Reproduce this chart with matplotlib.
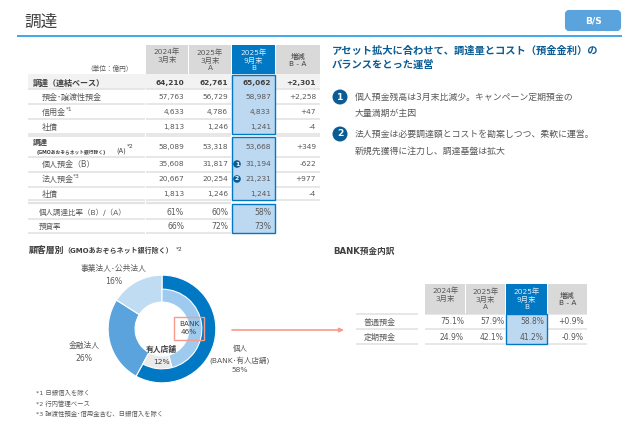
import matplotlib
matplotlib.use("Agg")
import matplotlib.pyplot as plt
from matplotlib.patches import Rectangle, FancyBboxPatch, Circle

plt.rcParams['font.family'] = ['DejaVu Sans', 'Noto Sans CJK JP']

# ---- data ----
header_labels = ["2024年\n3月末", "2025年\n3月末\nA", "2025年\n9月末\nB", "増減\nB - A"]
main_labels = ["調達（連結ベース）", "預金･譲渡性預金", "信用金", "社債",
               "", "個人預金（B）", "法人預金", "社債",
               "個人調達比率（B）/（A）", "預貸率"]
fy24 = ["64,210", "57,763", "4,633", "1,813", "58,089", "35,608", "20,667", "1,813", "61%", "66%"]
fy25 = ["62,761", "56,729", "4,786", "1,246", "53,318", "31,817", "20,254", "1,246", "60%", "72%"]
sep25 = ["65,062", "58,987", "4,833", "1,241", "53,668", "31,194", "21,231", "1,241", "58%", "73%"]
diff = ["+2,301", "+2,258", "+47", "-4", "+349", "-622", "+977", "-4", "", ""]

outer_values = [58, 26, 16]
outer_labels = ["個人\n(BANK･有人店舗)\n58%", "金融法人\n26%", "事業法人･公共法人\n16%"]
inner_values = [46, 12, 42]
inner_labels = ["BANK\n46%", "有人店舗\n12%"]

bank_labels = ["普通預金", "定期預金"]
bank_24 = ["75.1%", "24.9%"]
bank_25 = ["57.9%", "42.1%"]
bank_sep = ["58.8%", "41.2%"]
bank_diff = ["+0.9%", "-0.9%"]

heading = "アセット拡大に合わせて、調達量とコスト（預金金利）の\nバランスをとった運営"
points = [["個人預金残高は3月末比減少。キャンペーン定期預金の", "大量満期が主因"],
          ["法人預金は必要調達額とコストを勘案しつつ、柔軟に運営。", "新規先獲得に注力し、調達基盤は拡大"]]
notes = ["*1 日銀借入を除く", "*2 行内管理ベース", "*3 譲渡性預金･借用金含む、日銀借入を除く"]

# ---- colours ----
BLUE = "#0078C4"; LIGHT = "#BDD9F1"; MID = "#5BA3DC"; PALE = "#9DCAEE"; PALER = "#BFDCF3"
GREY = "#D9D9D9"; SEP = "#E3E3E3"; TXT = "#595959"; DARK = "#404040"; NAVY = "#0B5C94"; SALMON = "#F79A8C"

fig = plt.figure(figsize=(6.4, 4.43), dpi=100, facecolor="white")
ax = fig.add_axes([0, 0, 1, 1], zorder=3)
ax.set_xlim(0, 640); ax.set_ylim(443, 0); ax.axis("off"); ax.patch.set_alpha(0)

def rect(x0, y0, x1, y1, fc="none", ec="none", lw=0, z=1):
    ax.add_patch(Rectangle((x0, y0), x1 - x0, y1 - y0, facecolor=fc, edgecolor=ec, linewidth=lw, zorder=z))

def hline(x0, x1, y, c=SEP, lw=1.0, z=1.5):
    ax.plot([x0, x1], [y, y], color=c, lw=lw, zorder=z, solid_capstyle="butt")

def t(x, y, s, size=5.6, c=TXT, ha="left", va="center", w="normal", z=5, ls=1.2):
    ax.text(x, y, s, fontsize=size, color=c, ha=ha, va=va, fontweight=w, zorder=z, linespacing=ls)

# page header
t(24, 22, "調達", size=12, c=DARK)
hline(17, 622, 36, c="#1E9BE6", lw=1.2)
ax.add_patch(FancyBboxPatch((566, 11), 54, 19, boxstyle="round,pad=0,rounding_size=3",
                            facecolor=MID, edgecolor=MID, lw=1.5, zorder=2))
t(593, 21, "B/S", size=6.6, c="white", ha="center", w="bold")

# main table
hx = [(146, 188), (189, 231), (232, 275), (276, 320)]
for i, (x0, x1) in enumerate(hx):
    rect(x0, 45, x1, 74, fc=BLUE if i == 2 else GREY, z=2)
t(167, 55, header_labels[0], size=5.3, ha="center")
t(210, 60, header_labels[1], size=5.3, ha="center")
t(253.5, 60, header_labels[2], size=5.3, c="#DDEEFA", ha="center")
t(298, 60, header_labels[3], size=5.3, ha="center", c=DARK)
t(133, 68, "（単位：億円）", size=4.8, ha="right")

row_y = [83, 97, 112, 127, 147, 164, 179, 194, 212, 226]
row_x = [33, 42, 42, 42, 33, 42, 42, 42, 39, 39]
rect(28, 74, 320, 89, fc="#F2F2F2", z=1)
rect(232, 75, 275, 133.5, fc=LIGHT, ec=BLUE, lw=1, z=1.8)
rect(232, 136.5, 275, 200, fc=LIGHT, ec=BLUE, lw=1, z=1.8)
rect(232, 203.5, 275, 232.5, fc=LIGHT, ec=BLUE, lw=1, z=1.8)
for y in [89, 104, 119, 134, 136, 157, 172, 186.5, 200, 218.5, 233]:
    for x0, x1 in [(28, 145), (146, 231), (276, 320)]:
        if y >= 203 and x0 == 276:
            continue
        hline(x0, x1, y, lw=1.2)
for x0, x1 in [(28, 145), (146, 231)]:
    hline(x0, x1, 203, lw=1.6)

for i, y in enumerate(row_y):
    bold = i == 0
    w = "bold" if bold else "normal"
    c = DARK if bold else TXT
    sz = 5.3 if i < 8 else 5.6
    if main_labels[i]:
        t(row_x[i], y, main_labels[i], size=5.8 if i not in (8, 9) else 5.4, c=c, w=w)
    t(184, y, fy24[i], size=sz, c=c, ha="right", w=w)
    t(228, y, fy25[i], size=sz, c=c, ha="right", w=w)
    t(271, y, sep25[i], size=sz, c=c, ha="right", w=w)
    if diff[i]:
        t(316, y, diff[i], size=sz, c=c, ha="right", w=w)
t(66, 109.5, "*1", size=4.2)
t(73, 176.5, "*3", size=4.2)
t(33, 142, "調達", size=5.4, c=DARK, w="bold")
t(37, 152, "(GMOあおぞらネット銀行除く)", size=3.4, c=DARK, w="bold")
t(116, 151, "(A)", size=4.8, c=DARK)
t(127, 146, "*2", size=4.2, c=DARK)

for cy, n in [(164, "1"), (179, "2")]:
    ax.add_patch(Circle((237, cy), 3.8, fc=NAVY, ec="none", zorder=4))
    t(237, cy, n, size=4.4, c="white", ha="center", w="bold")

# right text
t(332, 58, heading, size=7.4, c=NAVY, w="bold", ls=1.5)
for cy, n in [(97, "1"), (134, "2")]:
    ax.add_patch(Circle((340, cy), 7.5, fc=NAVY, ec="none", zorder=4))
    t(340, cy, n, size=6.6, c="white", ha="center", w="bold")
t(355, 97, points[0][0], size=6.4)
t(355, 113, points[0][1], size=6.4)
t(355, 134, points[1][0], size=6.4)
t(355, 151, points[1][1], size=6.4)

# donut section
t(29, 250, "顧客層別", size=6.4, c=DARK, w="bold")
t(63, 250, "（GMOあおぞらネット銀行除く）", size=5.0, c=DARK, w="bold")
t(176, 249, "*2", size=4.2, c=DARK)

cx, cy_, R = 162, 329, 54
pad = 2
pax = fig.add_axes([(cx - R - pad) / 640, 1 - (cy_ + R + pad) / 443, (2 * R + 2 * pad) / 640, (2 * R + 2 * pad) / 443], zorder=2)
pax.pie(outer_values, colors=[BLUE, MID, PALER], startangle=90, counterclock=False, radius=1,
        wedgeprops=dict(width=0.5, edgecolor="white", linewidth=0.8))
wedges, _ = pax.pie(inner_values, colors=[PALE, "#EAEAEA", "none"], startangle=90, counterclock=False, radius=0.74,
                    wedgeprops=dict(width=0.24, edgecolor="white", linewidth=0.8))
wedges[2].set_visible(False)
pax.set_xlim(-1.04, 1.04); pax.set_ylim(-1.04, 1.04); pax.set_aspect("equal")

t(114, 275, outer_labels[2], size=5.6, ha="center", ls=1.55)
t(84, 352, outer_labels[1], size=5.6, ha="center", ls=1.55)
t(240, 359, outer_labels[0], size=5.4, ha="center", ls=1.6)
t(189, 328, inner_labels[0], size=5.2, c=DARK, ha="center", ls=1.5)
t(161, 349, inner_labels[1].split("\n")[0], size=5.6, c=DARK, ha="center", w="bold")
t(161, 362, inner_labels[1].split("\n")[1], size=5.4, c=DARK, ha="center")
rect(173.5, 316.5, 204, 340, ec=SALMON, lw=1, z=4)
ax.annotate("", xy=(344, 330), xytext=(232, 330),
            arrowprops=dict(arrowstyle="-|>,head_width=0.12,head_length=0.25", color=SALMON, lw=1.2,
                            shrinkA=0, shrinkB=0), zorder=4)
for y, s in zip([393, 403.5, 414], notes):
    t(36, y, s, size=4.6)

# bank table
t(333, 251, "BANK預金内訳", size=6.2, c=DARK, w="bold")
bx = [(425, 465), (466, 505), (506, 547), (548, 587)]
for i, (x0, x1) in enumerate(bx):
    rect(x0, 284, x1, 314, fc=BLUE if i == 2 else GREY, z=2)
t(445.5, 294, header_labels[0], size=5.3, ha="center")
t(485.5, 299, header_labels[1], size=5.3, ha="center")
t(526.5, 299, header_labels[2], size=5.3, c="#DDEEFA", ha="center")
t(567.5, 299, header_labels[3], size=5.3, c=DARK, ha="center")
rect(506, 314, 547, 343.5, fc=LIGHT, ec=BLUE, lw=1, z=1.8)
for y in [314, 329, 343.5]:
    hline(356, 418, y, lw=1.2)
    hline(425, 505, y, lw=1.2)
    hline(548, 587, y, lw=1.2)
for i, y in enumerate([322, 337]):
    t(364, y, bank_labels[i], size=5.8)
    t(464, y, bank_24[i], size=5.5, ha="right")
    t(504, y, bank_25[i], size=5.5, ha="right")
    t(544, y, bank_sep[i], size=5.5, ha="right")
    t(584, y, bank_diff[i], size=5.5, ha="right")

fig.savefig("out.png", dpi=100)
